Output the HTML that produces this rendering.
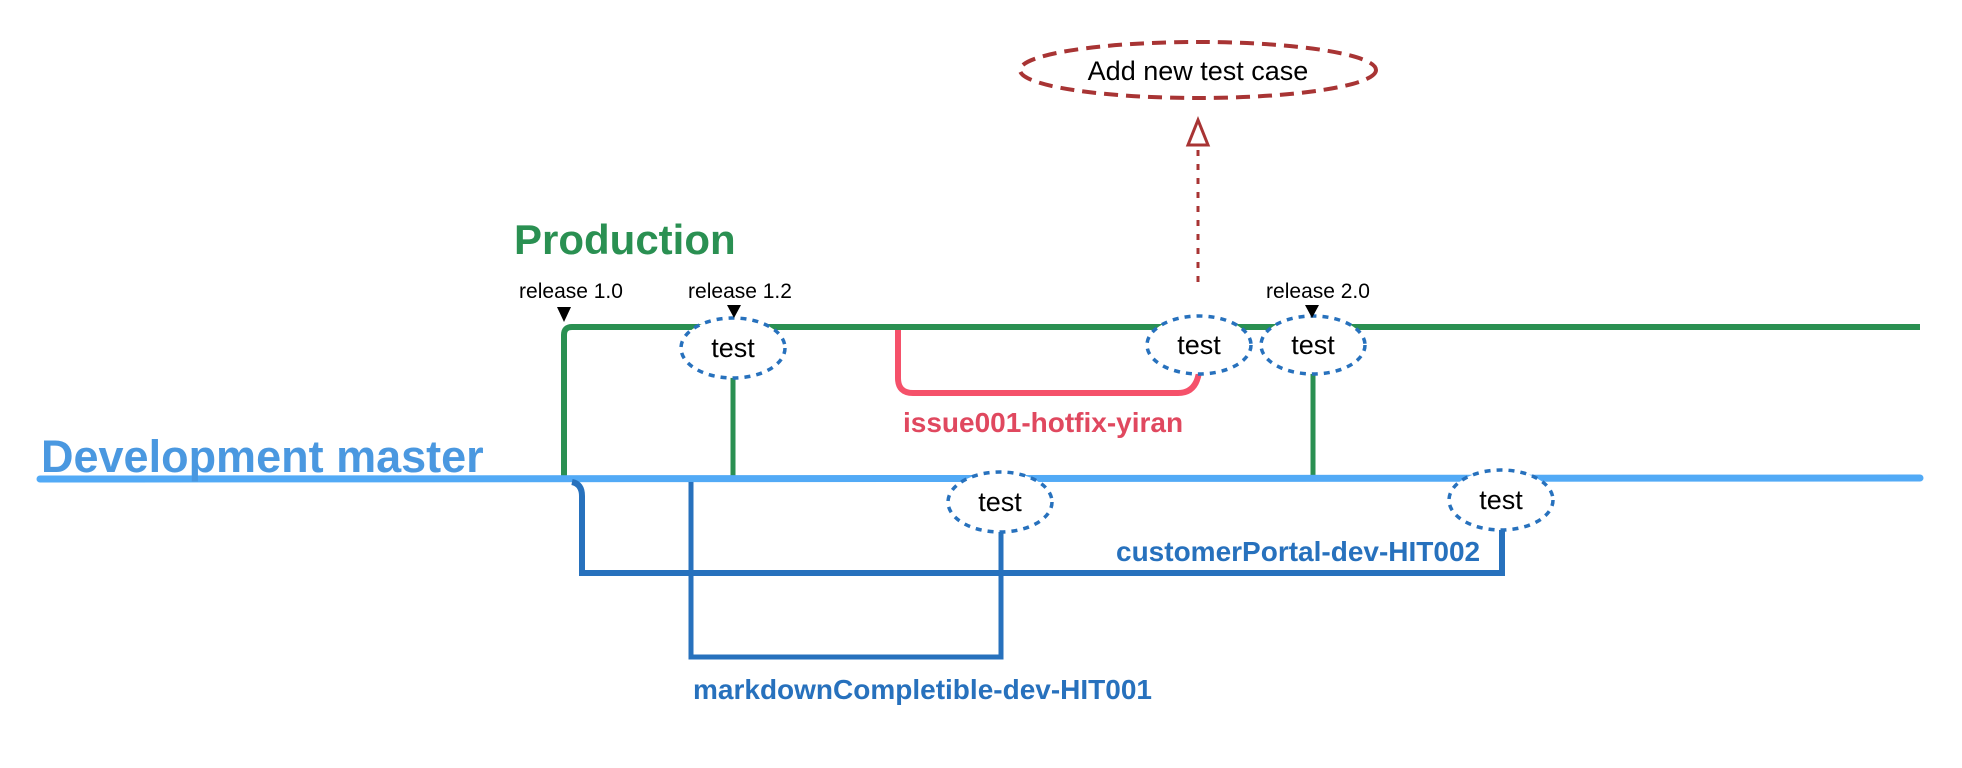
<!DOCTYPE html>
<html><head><meta charset="utf-8"><style>
html,body{margin:0;padding:0;background:#fff;}
svg{display:block;}
text{font-family:"Liberation Sans",Arial,sans-serif;}
</style></head><body>
<svg width="1962" height="768" viewBox="0 0 1962 768" xmlns="http://www.w3.org/2000/svg">
<!-- production line -->
<path d="M564 479 V335 Q564 327 572 327 H1920" stroke="#2a9052" stroke-width="6" fill="none"/>
<line x1="733" y1="370" x2="733" y2="479" stroke="#2a9052" stroke-width="5"/>
<line x1="1313" y1="370" x2="1313" y2="479" stroke="#2a9052" stroke-width="5"/>
<!-- hotfix -->
<path d="M898 330 V378 Q898 393 913 393 H1178 Q1196 393 1199 372" stroke="#f5516a" stroke-width="6" fill="none"/>
<!-- dev master -->
<line x1="40" y1="479" x2="1920" y2="478" stroke="#52aaf6" stroke-width="7" stroke-linecap="round"/>
<!-- customerPortal branch -->
<path d="M572 482 Q582 484 582 496 V573 H1502 V525" stroke="#2771bd" stroke-width="6" fill="none"/>
<!-- markdown branch -->
<path d="M691 482 V657 H1001 V527" stroke="#2771bd" stroke-width="5" fill="none"/>
<!-- Add new test case -->
<ellipse cx="1198" cy="70" rx="178" ry="28" fill="#fff" stroke="#a83434" stroke-width="4" stroke-dasharray="14 8"/>
<text x="1198" y="80" font-size="27" text-anchor="middle" fill="#000">Add new test case</text>
<line x1="1198" y1="150" x2="1198" y2="288" stroke="#a83434" stroke-width="3" stroke-dasharray="6 8"/>
<polygon points="1198,120 1188,145 1208,145" fill="#fff" stroke="#a83434" stroke-width="3"/>
<!-- test ellipses -->
<g fill="#fff" stroke="#2771bd" stroke-width="3.5" stroke-dasharray="6 6">
<ellipse cx="733" cy="348" rx="52" ry="30"/>
<ellipse cx="1199" cy="345" rx="52" ry="29"/>
<ellipse cx="1313" cy="345" rx="52" ry="29"/>
<ellipse cx="1000" cy="502" rx="52" ry="30"/>
<ellipse cx="1501" cy="500" rx="52" ry="30"/>
</g>
<g font-size="27" text-anchor="middle" fill="#000">
<text x="733" y="357">test</text>
<text x="1199" y="354">test</text>
<text x="1313" y="354">test</text>
<text x="1000" y="511">test</text>
<text x="1501" y="509">test</text>
</g>
<!-- release markers -->
<g font-size="21" text-anchor="middle" fill="#000">
<text x="571" y="298">release 1.0</text>
<text x="740" y="298">release 1.2</text>
<text x="1318" y="298">release 2.0</text>
</g>
<g fill="#000">
<polygon points="557,307 571,307 564,322"/>
<polygon points="727,305 741,305 734,318"/>
<polygon points="1305,305 1319,305 1312,318"/>
</g>
<!-- labels -->
<text x="514" y="254" font-size="42" font-weight="bold" fill="#2a9052">Production</text>
<text x="41" y="472" font-size="45" font-weight="bold" fill="#4a98e0">Development master</text>
<text x="903" y="432" font-size="28" font-weight="bold" fill="#e0485f">issue001-hotfix-yiran</text>
<text x="1116" y="561" font-size="28" font-weight="bold" fill="#2771bd">customerPortal-dev-HIT002</text>
<text x="693" y="699" font-size="28" font-weight="bold" fill="#2771bd">markdownCompletible-dev-HIT001</text>
</svg>
</body></html>
